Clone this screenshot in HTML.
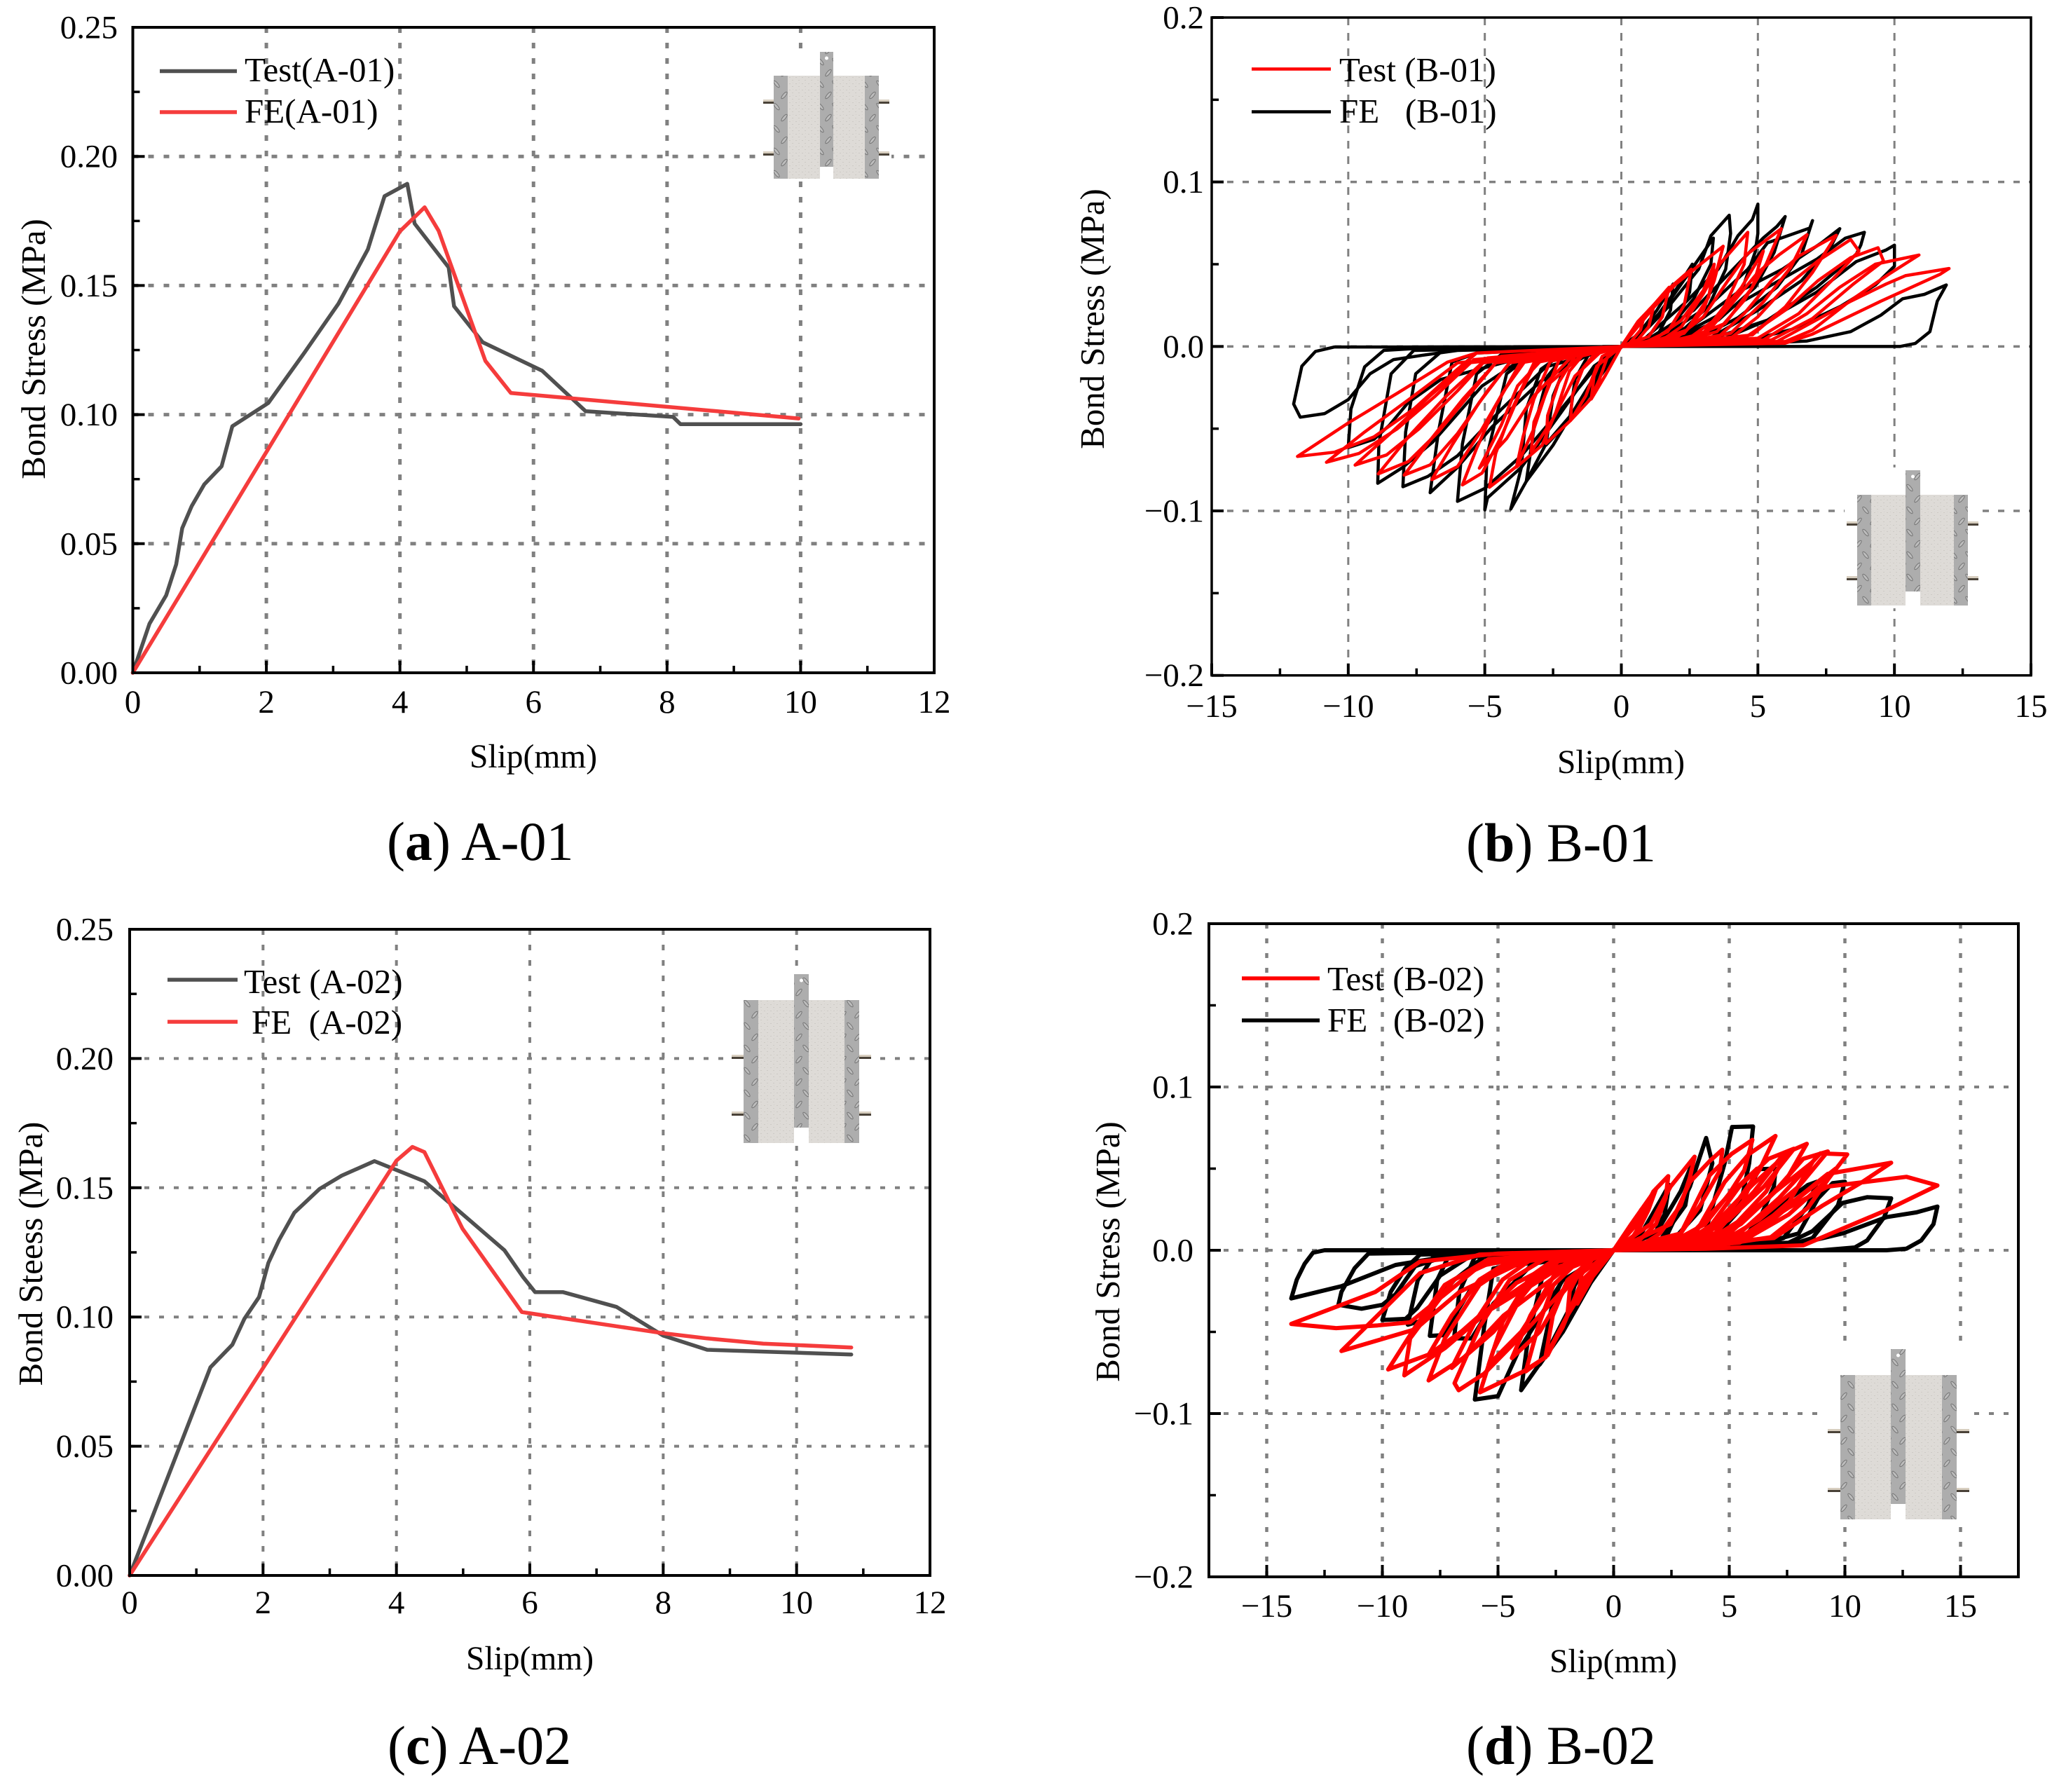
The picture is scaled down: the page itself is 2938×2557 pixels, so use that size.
<!DOCTYPE html>
<html lang="en">
<head>
<meta charset="utf-8">
<title>Bond stress versus slip: A-01, B-01, A-02, B-02</title>
<style>
html,body{margin:0;padding:0;background:#fff;}
svg{display:block;}
text{font-family:"Liberation Serif",serif;fill:#000;}
.tick{font-size:47px;}
.label{font-size:47.5px;}
.ytitle{font-size:48.8px;}
.legend{font-size:49px;white-space:pre;}
.caption{font-size:78px;}
</style>
</head>
<body>
<svg id="figure" width="2938" height="2557" viewBox="0 0 2938 2557" xmlns="http://www.w3.org/2000/svg">
<defs>
<pattern id="tread" patternUnits="userSpaceOnUse" width="21" height="32">
<rect width="21" height="32" fill="#adadad"/>
<ellipse cx="6" cy="8" rx="2" ry="6" transform="rotate(40 6 8)" fill="#bdbdbd" stroke="#757575" stroke-width="1"/>
<ellipse cx="16" cy="24" rx="2" ry="6" transform="rotate(-40 16 24)" fill="#bdbdbd" stroke="#757575" stroke-width="1"/>
</pattern>
<pattern id="concrete" patternUnits="userSpaceOnUse" width="9" height="9">
<rect width="9" height="9" fill="#dedbd7"/>
<rect x="1" y="2" width="2" height="1" fill="#cdcac5"/>
<rect x="5" y="6" width="2" height="1" fill="#cdcac5"/>
<rect x="6" y="1" width="1" height="1" fill="#d3d0cb"/>
</pattern>
</defs>
<rect width="2938" height="2557" fill="#fff"/>

<g id="panel-a"></g>
<g id="panel-b"></g>
<g id="panel-c"></g>
<g id="panel-d"></g>

<text class="ytitle" transform="translate(64 498) rotate(-90)" text-anchor="middle">Bond Stress (MPa)</text>
<text class="label" x="761" y="1095" text-anchor="middle">Slip(mm)</text>
<text class="legend" x="349" y="116">Test(A-01)</text>
<text class="legend" x="349" y="175">FE(A-01)</text>
<text class="caption" x="552" y="1227">(<tspan font-weight="bold">a</tspan>) A-01</text>

<text class="ytitle" transform="translate(1575 455) rotate(-90)" text-anchor="middle">Bond Stress (MPa)</text>
<text class="label" x="2313" y="1103" text-anchor="middle">Slip(mm)</text>
<text class="legend" x="1911" y="116">Test (B-01)</text>
<text class="legend" x="1911" y="175">FE   (B-01)</text>
<text class="caption" x="2092" y="1229">(<tspan font-weight="bold">b</tspan>) B-01</text>

<text class="ytitle" transform="translate(60 1789) rotate(-90)" text-anchor="middle">Bond Steess (MPa)</text>
<text class="label" x="756" y="2382" text-anchor="middle">Slip(mm)</text>
<text class="legend" x="348" y="1417">Test (A-02)</text>
<text class="legend" x="359" y="1475">FE  (A-02)</text>
<text class="caption" x="553" y="2517">(<tspan font-weight="bold">c</tspan>) A-02</text>

<text class="ytitle" transform="translate(1597 1786) rotate(-90)" text-anchor="middle">Bond Stress (MPa)</text>
<text class="label" x="2302" y="2386" text-anchor="middle">Slip(mm)</text>
<text class="legend" x="1894" y="1413">Test (B-02)</text>
<text class="legend" x="1894" y="1472">FE   (B-02)</text>
<text class="caption" x="2092" y="2517">(<tspan font-weight="bold">d</tspan>) B-02</text>
</svg>

<script>
// ---- axis ticks ----
const xTicksA = [0,2,4,6,8,10,12];
const xTickLabelsA = ['0','2','4','6','8','10','12'];
const yTicksA = [0,0.05,0.10,0.15,0.20,0.25];
const yTickLabelsA = ['0.00','0.05','0.10','0.15','0.20','0.25'];
const xTicksB = [-15,-10,-5,0,5,10,15];
const xTickLabelsB = ['\u221215','\u221210','\u22125','0','5','10','15'];
const yTicksB = [-0.2,-0.1,0,0.1,0.2];
const yTickLabelsB = ['\u22120.2','\u22120.1','0.0','0.1','0.2'];

// ---- panel (a) A-01 ----
const testA01 = [[0,0],[0.25,0.019],[0.5,0.03],[0.65,0.042],[0.74,0.056],[0.88,0.0645],[1.07,0.073],[1.33,0.08],[1.49,0.0955],[2.03,0.1045],[2.57,0.124],[3.08,0.143],[3.52,0.164],[3.64,0.174],[3.77,0.1846],[4.11,0.1894],[4.22,0.174],[4.73,0.157],[4.81,0.142],[5.24,0.128],[6.13,0.117],[6.78,0.1013],[8.09,0.0991],[8.2,0.0963],[10,0.0963]];
const feA01 = [[0,0],[4,0.171],[4.37,0.1803],[4.58,0.1712],[5.28,0.1208],[5.66,0.1084],[9.97,0.0985]];

// ---- panel (c) A-02 ----
const testA02 = [[0,0],[1.21,0.0805],[1.54,0.0893],[1.72,0.0993],[1.94,0.1077],[2.08,0.1209],[2.24,0.1298],[2.47,0.1404],[2.85,0.1496],[3.18,0.1547],[3.67,0.1603],[4.42,0.1525],[5.62,0.1258],[5.9,0.1154],[6.08,0.1096],[6.5,0.1096],[7.3,0.1039],[8,0.0928],[8.66,0.0873],[10.82,0.0855]];
const feA02 = [[0,0],[4,0.1605],[4.24,0.1658],[4.42,0.1638],[4.99,0.1342],[5.88,0.1019],[8,0.0937],[8.66,0.0917],[9.5,0.0897],[10.82,0.0882]];

// ---- panel (b) B-01: FE (black) loops ----
const feB01Pos = [
[[0,0],[0.5,0.005],[1.3,0.022],[1.9,0.038],[1.8,0.022],[1.3,0.006],[0,0]],
[[0,0],[0.5,0.004],[1.2,0.016],[1.9,0.032],[2.6,0.05],[2.5,0.033],[2,0.014],[1.3,0.004],[0,0]],
[[0,0],[0.5,0.006],[1.57,0.023],[2.47,0.0445],[3.37,0.0659],[3.28,0.05],[2.65,0.029],[1.57,0.0075],[0,0]],
[[0,0],[0.67,0.006],[1.75,0.0246],[2.83,0.047],[3.28,0.0673],[3.95,0.0798],[4,0.0687],[3.82,0.047],[3.2,0.0246],[2.1,0.0075],[1,0.0026],[0,0]],
[[0,0],[0.85,0.0047],[2.3,0.026],[3.55,0.047],[4.27,0.0673],[4.8,0.0772],[5,0.0865],[5,0.0687],[4.9,0.0573],[4.45,0.036],[3.2,0.0132],[1.75,0.0033],[0,0]],
[[0,0],[1,0.0047],[2.65,0.022],[4.27,0.05],[5.2,0.066],[5.7,0.073],[6,0.079],[5.6,0.0573],[4.9,0.036],[3.55,0.016],[2.1,0.0033],[0,0]],
[[0,0],[1.4,0.0047],[3.2,0.0246],[4.63,0.047],[5.35,0.063],[6.9,0.072],[7,0.0765],[6.6,0.056],[5.7,0.036],[4.27,0.0175],[2.65,0.0033],[0,0]],
[[0,0],[1,0.0026],[2.65,0.0132],[4.27,0.033],[5.9,0.047],[7.33,0.063],[8,0.0716],[7.7,0.0616],[6.6,0.04],[5,0.022],[3.2,0.0047],[0,0]],
[[0,0],[1.75,0.0033],[3.55,0.019],[5.35,0.036],[7.15,0.053],[8.2,0.0658],[8.9,0.0694],[8.77,0.0616],[8.6,0.056],[7.15,0.036],[5.35,0.016],[3.55,0.0033],[0,0]],
[[0,0],[3.55,0.006],[5.35,0.016],[7.15,0.033],[8.6,0.0516],[9.7,0.0587],[10,0.0616],[10,0.0488],[9.3,0.0374],[8.05,0.0246],[6.25,0.0104],[4.45,0.0026],[0,0]],
[[0,0],[3.55,0.0007],[6.8,0.0033],[8.4,0.009],[9.5,0.019],[10.3,0.029],[11.1,0.0317],[11.9,0.0374],[11.57,0.0275],[11.3,0.009],[10.76,0.0018],[10.2,0],[6,0],[0,0]]
];
const feB01Neg = [
[[0,0],[-1.2,-0.005],[-1.7,-0.02],[-1.9,-0.045],[-1.1,-0.028],[-0.4,-0.006],[0,0]],
[[0,0],[-1.4,-0.002],[-2,-0.01],[-2.5,-0.03],[-2.76,-0.06],[-1.9,-0.045],[-1.1,-0.025],[-0.4,-0.005],[0,0]],
[[0,0],[-2,-0.004],[-2.7,-0.018],[-3.2,-0.05],[-3.48,-0.082],[-2.5,-0.06],[-1.6,-0.035],[-0.6,-0.008],[0,0]],
[[0,0],[-2.2,-0.005],[-2.94,-0.0138],[-3.48,-0.038],[-3.66,-0.0735],[-4.05,-0.0989],[-3.48,-0.082],[-2.76,-0.0593],[-1.5,-0.035],[-0.4,-0.0095],[0,0]],
[[0,0],[-3.3,-0.005],[-4.2,-0.0166],[-4.92,-0.0664],[-5,-0.0994],[-4.9,-0.092],[-3.66,-0.0735],[-2.2,-0.04],[-1,-0.012],[0,0]],
[[0,0],[-4.4,-0.005],[-5.3,-0.0166],[-5.82,-0.0593],[-6,-0.0942],[-5,-0.0863],[-3.66,-0.0664],[-2.2,-0.038],[-0.77,-0.0095],[0,0]],
[[0,0],[-5.3,-0.004],[-6.2,-0.0095],[-6.7,-0.052],[-7,-0.0889],[-6,-0.0735],[-4.74,-0.049],[-2.94,-0.021],[-1.1,-0.004],[0,0]],
[[0,0],[-6.54,-0.0024],[-7.53,-0.0166],[-7.9,-0.052],[-8,-0.0853],[-7.08,-0.079],[-6,-0.0665],[-4.38,-0.038],[-2.76,-0.0124],[0,0]],
[[0,0],[-7.6,-0.0024],[-8.43,-0.0166],[-8.88,-0.0593],[-8.92,-0.0832],[-8,-0.0735],[-6.9,-0.058],[-5.1,-0.024],[-3.66,-0.008],[0,0]],
[[0,0],[-7.3,-0.001],[-8.7,-0.0024],[-9.4,-0.0124],[-9.9,-0.038],[-10,-0.0615],[-9.06,-0.0565],[-8.5,-0.048],[-7.8,-0.034],[-6.6,-0.02],[-3,-0.004],[0,0]],
[[0,0],[-8,-0.0003],[-10.5,-0.0003],[-11.2,-0.003],[-11.7,-0.012],[-12,-0.035],[-11.76,-0.043],[-10.86,-0.0408],[-10,-0.0323],[-9.2,-0.0166],[-8.34,-0.008],[-7.26,-0.0053],[-6,-0.0024],[0,0]]
];

// ---- panel (b) B-01: Test (red) loops ----
const testB01Pos = [
[[0,0],[0.5,0.012],[0.85,0.019],[0.7,0.01],[0.3,0.002],[0,0]],
[[0,0],[0.6,0.015],[1.2,0.0255],[1,0.012],[0.6,0.004],[0,0]],
[[0,0],[0.8,0.018],[1.75,0.036],[1.5,0.018],[1,0.006],[0,0]],
[[0,0],[1,0.022],[1.8,0.036],[2.56,0.047],[2.3,0.025],[1.7,0.009],[0.8,0.002],[0,0]],
[[0,0],[1.2,0.004],[2.2,0.016],[3,0.034],[3.4,0.05],[3.2,0.03],[2.4,0.01],[1,0.002],[0,0]],
[[0,0],[1.2,0.024],[2,0.038],[2.9,0.05],[3.73,0.0609],[3.4,0.04],[3,0.022],[2.3,0.008],[1,0.002],[0,0]],
[[0,0],[1.5,0.004],[2.2,0.012],[3,0.032],[3.6,0.05],[4.63,0.0694],[4.5,0.05],[3.8,0.025],[3,0.008],[1.5,0.002],[0,0]],
[[0,0],[2.4,0.004],[3.4,0.016],[4.4,0.036],[5.2,0.058],[4.8,0.036],[3.8,0.014],[2,0.002],[0,0]],
[[0,0],[2,0.005],[3,0.018],[3.9,0.04],[4.6,0.056],[5.86,0.0716],[5.3,0.05],[4.5,0.028],[3.5,0.009],[2,0.002],[0,0]],
[[0,0],[3,0.006],[4,0.025],[5,0.045],[5.8,0.056],[6.8,0.068],[6.2,0.048],[5.2,0.027],[4,0.008],[2,0.002],[0,0]],
[[0,0],[3.5,0.005],[4.5,0.02],[5.5,0.04],[6.5,0.055],[7.87,0.0676],[7,0.045],[6,0.024],[4.8,0.007],[2,0.002],[0,0]],
[[0,0],[4,0.005],[5,0.018],[6,0.036],[7.2,0.052],[8.4,0.065],[8.7,0.058],[7.7,0.04],[6.5,0.02],[5,0.005],[2,0.002],[0,0]],
[[0,0],[4.5,0.005],[6,0.022],[7.2,0.04],[8.4,0.054],[9.4,0.06],[9.6,0.052],[8.5,0.038],[7,0.017],[5.5,0.004],[2,0.002],[0,0]],
[[0,0],[5.2,0.004],[6.8,0.02],[8,0.036],[9.3,0.05],[10.9,0.0556],[9.8,0.044],[8.4,0.028],[7,0.01],[6,0.003],[2,0.002],[0,0]],
[[0,0],[5.7,0.003],[8.4,0.0275],[9.7,0.038],[10.4,0.043],[12,0.0474],[11.66,0.0438],[9.5,0.0275],[7,0.0075],[6,0.002],[0,0]]
];
const testB01Neg = [
[[0,0],[-0.7,-0.006],[-1,-0.018],[-1.1,-0.032],[-0.6,-0.018],[0,0]],
[[0,0],[-0.9,-0.003],[-1.4,-0.013],[-1.8,-0.03],[-1.86,-0.045],[-1.13,-0.032],[-0.8,-0.02],[-0.5,-0.006],[0,0]],
[[0,0],[-1.7,-0.006],[-2.3,-0.022],[-2.7,-0.042],[-2.76,-0.059],[-1.86,-0.045],[-1.3,-0.03],[-0.9,-0.012],[0,0]],
[[0,0],[-1.5,-0.006],[-2.6,-0.022],[-3.2,-0.046],[-3.3,-0.064],[-2.5,-0.044],[-1.7,-0.018],[-0.8,-0.004],[0,0]],
[[0,0],[-2.6,-0.009],[-3.2,-0.032],[-3.6,-0.055],[-3.84,-0.0733],[-2.9,-0.06],[-2.4,-0.04],[-1.9,-0.015],[-1.3,-0.003],[0,0]],
[[0,0],[-3.2,-0.01],[-4,-0.038],[-4.6,-0.065],[-4.83,-0.0856],[-3.84,-0.073],[-3.2,-0.05],[-2.7,-0.025],[-2.2,-0.005],[0,0]],
[[0,0],[-2.8,-0.006],[-3.8,-0.024],[-4.4,-0.048],[-5.2,-0.074],[-4.2,-0.056],[-3.2,-0.03],[-1.8,-0.006],[0,0]],
[[0,0],[-3.7,-0.01],[-4.6,-0.036],[-5.3,-0.062],[-5.82,-0.0842],[-5.1,-0.077],[-4.4,-0.055],[-3.7,-0.028],[-3,-0.006],[0,0]],
[[0,0],[-4.1,-0.01],[-5.2,-0.034],[-6.2,-0.06],[-6.94,-0.081],[-6,-0.073],[-5.2,-0.053],[-4.3,-0.027],[-3.4,-0.006],[0,0]],
[[0,0],[-4.6,-0.01],[-5.8,-0.032],[-7,-0.057],[-7.95,-0.0782],[-7,-0.072],[-6,-0.053],[-4.9,-0.027],[-3.9,-0.006],[0,0]],
[[0,0],[-5.1,-0.01],[-6.4,-0.03],[-7.8,-0.055],[-8.9,-0.0775],[-7.8,-0.07],[-6.7,-0.052],[-5.5,-0.028],[-4.4,-0.006],[0,0]],
[[0,0],[-5.6,-0.01],[-7,-0.03],[-8.4,-0.052],[-9.75,-0.0721],[-8.6,-0.066],[-7.4,-0.05],[-6,-0.027],[-4.9,-0.007],[0,0]],
[[0,0],[-6,-0.01],[-7.6,-0.03],[-9.4,-0.052],[-10.8,-0.0704],[-9.6,-0.065],[-8.2,-0.05],[-6.8,-0.03],[-5.4,-0.008],[0,0]],
[[0,0],[-5.3,-0.004],[-6.36,-0.0095],[-8.16,-0.028],[-10,-0.0465],[-11.86,-0.0669],[-10.5,-0.0643],[-9.06,-0.055],[-7.6,-0.038],[-6,-0.0138],[-5.3,-0.004],[0,0]]
];

// ---- panel (d) B-02: FE (black) loops ----
const feB02Pos = [
[[0,0],[1.2,0.0103],[2,0.03],[2.4,0.04],[2.2,0.022],[1.6,0.005],[0,0]],
[[0,0],[1.83,0.0103],[2.9,0.0361],[3.4,0.0533],[3.1,0.0275],[2,0.006],[0,0]],
[[0,0],[2.25,0.0075],[3.3,0.039],[4,0.0688],[4.27,0.0533],[3.74,0.0246],[2.46,0.0046],[0,0]],
[[0,0],[3.95,0.0103],[4.8,0.0533],[5.12,0.0755],[6.03,0.0758],[5.86,0.0533],[5.44,0.0246],[4.16,0.0046],[0,0]],
[[0,0],[3.95,0.0103],[5.44,0.0275],[6.3,0.0497],[7,0.05],[6.93,0.039],[6.3,0.0189],[5.44,0.0046],[0,0]],
[[0,0],[5.44,0.0046],[7.35,0.029],[8.4,0.04],[8.8,0.042],[8.4,0.0275],[7.35,0.0075],[6.3,0.003],[0,0]],
[[0,0],[6.5,0.0046],[8,0.0103],[8.84,0.0318],[9.47,0.0411],[10,0.042],[9.7,0.0275],[8.6,0.0075],[7.56,0.003],[0,0]],
[[0,0],[7.56,0.0046],[8.6,0.0117],[9.9,0.029],[10.96,0.0325],[12,0.0318],[11.7,0.0203],[10.96,0.006],[10.43,0.0017],[9,0],[0,0]],
[[0,0],[5.44,0.0032],[8.2,0.0046],[9.9,0.0103],[11.8,0.0203],[13.1,0.0232],[14,0.0268],[13.83,0.016],[13.3,0.006],[12.66,0.001],[11.8,0],[6,0],[0,0]]
];
const feB02Neg = [
[[0,0],[-1.1,-0.005],[-1.7,-0.022],[-2.2,-0.05],[-1.4,-0.03],[-0.6,-0.01],[0,0]],
[[0,0],[-1.9,-0.008],[-2.6,-0.03],[-3.2,-0.07],[-2.2,-0.05],[-1,-0.02],[0,0]],
[[0,0],[-3,-0.0112],[-3.7,-0.054],[-4,-0.0857],[-3,-0.0656],[-1.8,-0.0327],[-0.5,-0.0083],[0,0]],
[[0,0],[-5.2,-0.0112],[-5.6,-0.047],[-6,-0.0914],[-5,-0.0893],[-4.1,-0.0613],[-2.2,-0.0183],[0,0]],
[[0,0],[-6,-0.004],[-6.67,-0.0255],[-6.9,-0.054],[-6.14,-0.054],[-5.2,-0.0327],[-3.5,-0.0083],[0,0]],
[[0,0],[-7.1,-0.0026],[-7.63,-0.0183],[-7.95,-0.0524],[-7.4,-0.052],[-6.25,-0.0255],[-4.55,-0.0069],[0,0]],
[[0,0],[-7.73,-0.0026],[-8.47,-0.0183],[-8.9,-0.0456],[-8.37,-0.0434],[-6.9,-0.0183],[-5.6,-0.004],[0,0]],
[[0,0],[-8.37,-0.0026],[-9,-0.011],[-9.64,-0.0255],[-10,-0.0427],[-9,-0.042],[-8.5,-0.0355],[-7.5,-0.0155],[-6.25,-0.004],[0,0]],
[[0,0],[-10.6,-0.002],[-11.2,-0.011],[-11.77,-0.0255],[-11.9,-0.0334],[-10.9,-0.0358],[-10,-0.0334],[-9.43,-0.027],[-8.58,-0.0097],[-7.3,-0.004],[0,0]],
[[0,0],[-8,0],[-12.5,0],[-13,-0.0015],[-13.36,-0.0083],[-13.7,-0.018],[-13.94,-0.0295],[-11.77,-0.022],[-9.43,-0.009],[-7.3,-0.004],[-4,-0.001],[0,0]]
];

// ---- panel (d) B-02: Test (red) loops ----
const testB02Pos = [
[[0,0],[0.6,0.01],[1.2,0.025],[1,0.012],[0.6,0.003],[0,0]],
[[0,0],[0.76,0.016],[1.83,0.0375],[1.5,0.0246],[1,0.0103],[0,0]],
[[0,0],[1,0.016],[1.72,0.036],[2.36,0.0454],[2.25,0.032],[1.83,0.016],[1,0.0046],[0,0]],
[[0,0],[1.6,0.016],[2.46,0.039],[3.5,0.0573],[3.3,0.0447],[2.9,0.0275],[2,0.0103],[1.2,0.003],[0,0]],
[[0,0],[2.46,0.016],[3.3,0.0418],[4.16,0.0547],[4.7,0.0616],[4.6,0.049],[3.74,0.0275],[2.9,0.0103],[1.83,0.003],[0,0]],
[[0,0],[2,0.002],[3.5,0.012],[5,0.034],[6.2,0.05],[5.6,0.03],[4.4,0.01],[2.5,0.002],[0,0]],
[[0,0],[2.9,0.0103],[4.16,0.0461],[5.1,0.059],[6,0.0676],[5.65,0.049],[5,0.0347],[3.95,0.016],[2.46,0.0046],[0,0]],
[[0,0],[3,0.004],[4.5,0.018],[6,0.04],[7.4,0.058],[6.6,0.036],[5,0.012],[3,0.002],[0,0]],
[[0,0],[3.53,0.0103],[4.8,0.0418],[5.86,0.059],[7,0.07],[6.3,0.049],[5.44,0.0318],[4.6,0.016],[2.9,0.0046],[0,0]],
[[0,0],[3.95,0.0103],[5.44,0.039],[6.7,0.056],[7.8,0.0622],[6.5,0.039],[5,0.0189],[3.3,0.0046],[0,0]],
[[0,0],[4,0.004],[5.5,0.016],[7,0.036],[8.6,0.054],[7.6,0.03],[6,0.01],[3.5,0.002],[0,0]],
[[0,0],[4.38,0.0103],[6.08,0.0361],[7.35,0.059],[8.35,0.0652],[7.35,0.0404],[5.65,0.02],[3.95,0.0046],[0,0]],
[[0,0],[5,0.004],[6.5,0.014],[8,0.032],[9.6,0.05],[8.4,0.026],[6.8,0.008],[4,0.002],[0,0]],
[[0,0],[5,0.0103],[6.7,0.0318],[8.2,0.056],[9.26,0.0605],[8,0.039],[6.3,0.0189],[4.6,0.0046],[0,0]],
[[0,0],[5.44,0.0103],[7.14,0.0318],[8.94,0.0593],[10.1,0.0587],[9.26,0.0433],[7.56,0.0218],[5.44,0.0046],[0,0]],
[[0,0],[5.44,0.0075],[7.56,0.0275],[9.26,0.0468],[12,0.0536],[10.75,0.0418],[9.05,0.0275],[6.93,0.0075],[0,0]],
[[0,0],[5.86,0.0103],[7.56,0.026],[9.26,0.039],[12.66,0.045],[14,0.0397],[11.8,0.0246],[9.9,0.0132],[8.2,0.003],[4,0.001],[0,0]]
];
const testB02Neg = [
[[0,0],[-0.8,-0.003],[-1.4,-0.015],[-1.57,-0.0327],[-0.9,-0.016],[0,0]],
[[0,0],[-1.2,-0.006],[-1.9,-0.025],[-2,-0.04],[-1.3,-0.024],[-0.8,-0.008],[0,0]],
[[0,0],[-0.93,-0.0054],[-2,-0.0183],[-2.63,-0.04],[-2.95,-0.0656],[-2.2,-0.047],[-1.36,-0.0183],[0,0]],
[[0,0],[-1.57,-0.0069],[-2.6,-0.0212],[-3.27,-0.047],[-3.8,-0.0742],[-2.85,-0.0642],[-2,-0.04],[-1.15,-0.0155],[0,0]],
[[0,0],[-1.5,-0.004],[-2.6,-0.016],[-3.6,-0.04],[-4.4,-0.066],[-3.2,-0.05],[-2.2,-0.026],[-1,-0.006],[0,0]],
[[0,0],[-2.4,-0.0069],[-3.9,-0.0255],[-5.2,-0.0613],[-5.78,-0.087],[-3.9,-0.0742],[-2.95,-0.0656],[-2,-0.04],[-0.93,-0.0126],[0,0]],
[[0,0],[-2.4,-0.004],[-3.6,-0.016],[-4.8,-0.044],[-5.4,-0.07],[-4,-0.05],[-2.8,-0.024],[-1.4,-0.005],[0,0]],
[[0,0],[-3,-0.0054],[-4.5,-0.0183],[-5.8,-0.047],[-6.88,-0.0814],[-6.7,-0.0857],[-5.6,-0.0756],[-4.1,-0.054],[-1.8,-0.0183],[0,0]],
[[0,0],[-3.4,-0.004],[-4.8,-0.018],[-6,-0.044],[-7,-0.072],[-5.2,-0.05],[-3.6,-0.022],[-1.6,-0.004],[0,0]],
[[0,0],[-4.3,-0.0069],[-5.8,-0.0212],[-7.3,-0.054],[-8,-0.0797],[-6.46,-0.0656],[-4.76,-0.04],[-2.2,-0.0126],[0,0]],
[[0,0],[-4.2,-0.004],[-5.8,-0.018],[-7,-0.04],[-8,-0.064],[-6,-0.044],[-4.2,-0.02],[-2,-0.004],[0,0]],
[[0,0],[-5,-0.0054],[-6.9,-0.018],[-8.8,-0.054],[-9.05,-0.0766],[-7.3,-0.06],[-5.4,-0.037],[-2.6,-0.0126],[0,0]],
[[0,0],[-5.4,-0.0054],[-7.3,-0.0212],[-8.58,-0.047],[-9.75,-0.073],[-7.5,-0.0613],[-5.8,-0.04],[-3,-0.0126],[0,0]],
[[0,0],[-5.8,-0.0026],[-8.37,-0.014],[-10,-0.037],[-11.77,-0.0617],[-8.58,-0.0484],[-6.67,-0.0255],[-3.9,-0.0069],[0,0]],
[[0,0],[-5,-0.002],[-8.37,-0.0069],[-10.3,-0.0255],[-13.94,-0.0451],[-12,-0.0477],[-10.2,-0.046],[-8.8,-0.0441],[-7.3,-0.027],[-5.8,-0.0097],[-3,-0.002],[0,0]]
];

// ---- drawing ----
const NS = 'http://www.w3.org/2000/svg';
function make(tag, attrs) {
  const el = document.createElementNS(NS, tag);
  for (const k in attrs) el.setAttribute(k, attrs[k]);
  return el;
}

function drawInset(root, s) {
  const g = make('g', {});
  
  
  g.appendChild(make('rect', {x:s.x0-s.bolt-3, y:s.tabTop-4, width:s.x1-s.x0+2*s.bolt+6, height:s.bottom-s.tabTop+8, fill:'#fff'}));
  g.appendChild(make('rect', {x:s.x0+s.plate, y:s.top, width:s.x1-s.x0-2*s.plate, height:s.bottom-s.top, fill:'url(#concrete)'}));
  g.appendChild(make('rect', {x:s.tab0, y:s.centerBottom, width:s.tab1-s.tab0, height:s.bottom-s.centerBottom+1, fill:'#fff'}));
  g.appendChild(make('rect', {x:s.x0, y:s.top, width:s.plate, height:s.bottom-s.top, fill:'url(#tread)'}));
  g.appendChild(make('rect', {x:s.x1-s.plate, y:s.top, width:s.plate, height:s.bottom-s.top, fill:'url(#tread)'}));
  g.appendChild(make('rect', {x:s.tab0, y:s.tabTop, width:s.tab1-s.tab0, height:s.centerBottom-s.tabTop, fill:'url(#tread)'}));
  g.appendChild(make('circle', {cx:(s.tab0+s.tab1)/2, cy:s.tabTop+9, r:2.5, fill:'#fff'}));
  for (const by of s.bolts) {
    for (const bx of [s.x0-s.bolt, s.x1]) {
      g.appendChild(make('rect', {x:bx, y:by-3, width:s.bolt, height:3, fill:'#d8cfc0'}));
      g.appendChild(make('rect', {x:bx, y:by, width:s.bolt, height:3, fill:'#4a4238'}));
    }
  }
  root.appendChild(g);
}

function drawPanel(p) {
  const root = document.getElementById(p.id);
  const sx = v => p.left + (v - p.xMin) / (p.xMax - p.xMin) * (p.right - p.left);
  const sy = v => p.bottom - (v - p.yMin) / (p.yMax - p.yMin) * (p.bottom - p.top);

  p.xTicks.forEach(v => {
    if (v === p.xMin || v === p.xMax) return;
    const ln = make('line', {x1:sx(v), x2:sx(v), y1:p.top, y2:p.bottom, stroke:'#808080', 'stroke-width':p.gridV[0], 'stroke-dasharray':p.gridV[1]});
    
    
    root.appendChild(ln);
  });
  p.yTicks.forEach(v => {
    if (v === p.yMin || v === p.yMax) return;
    const ln = make('line', {x1:p.left, x2:p.right, y1:sy(v), y2:sy(v), stroke:'#808080', 'stroke-width':p.gridH[0], 'stroke-dasharray':p.gridH[1]});
    
    
    root.appendChild(ln);
  });

  drawInset(root, p.inset);

  p.series.forEach(s => {
    s.groups.forEach(loop => {
      const pl = make('polyline', {points:loop.map(q => sx(q[0]).toFixed(1) + ',' + sy(q[1]).toFixed(1)).join(' '), fill:'none', stroke:s.color, 'stroke-width':s.width, 'stroke-linejoin':'round', 'stroke-linecap':'round'});
      
      
      root.appendChild(pl);
    });
  });

  const frame = make('rect', {x:p.left, y:p.top, width:p.right-p.left, height:p.bottom-p.top, fill:'none', stroke:'#000', 'stroke-width':p.frameWidth});
  
  
  root.appendChild(frame);

  p.xTicks.forEach((v, i) => {
    const t = make('line', {x1:sx(v), x2:sx(v), y1:p.bottom, y2:p.bottom-17, stroke:'#000', 'stroke-width':4});
    
    
    root.appendChild(t);
    if (i < p.xTicks.length - 1) {
      const mid = (v + p.xTicks[i+1]) / 2;
      const m = make('line', {x1:sx(mid), x2:sx(mid), y1:p.bottom, y2:p.bottom-10, stroke:'#000', 'stroke-width':3.5});
      
      
      root.appendChild(m);
    }
    const lb = make('text', {x:sx(v), y:p.xLabelY, 'text-anchor':'middle', class:'tick'});
    lb.textContent = p.xLabels[i];
    
    
    root.appendChild(lb);
  });
  p.yTicks.forEach((v, i) => {
    const t = make('line', {x1:p.left, x2:p.left+17, y1:sy(v), y2:sy(v), stroke:'#000', 'stroke-width':4});
    
    
    root.appendChild(t);
    if (i < p.yTicks.length - 1) {
      const mid = (v + p.yTicks[i+1]) / 2;
      const m = make('line', {x1:p.left, x2:p.left+10, y1:sy(mid), y2:sy(mid), stroke:'#000', 'stroke-width':3.5});
      
      
      root.appendChild(m);
    }
    const lb = make('text', {x:p.yLabelX, y:sy(v)+15.5, 'text-anchor':'end', class:'tick'});
    lb.textContent = p.yLabels[i];
    
    
    root.appendChild(lb);
  });

  p.legend.forEach(e => {
    const ln = make('line', {x1:e.x0, x2:e.x1, y1:e.y, y2:e.y, stroke:e.color, 'stroke-width':e.width});
    
    
    root.appendChild(ln);
  });
}

drawPanel({
  id:'panel-a', left:189.5, right:1333, top:39, bottom:960, frameWidth:4,
  xMin:0, xMax:12, yMin:0, yMax:0.25,
  xTicks:xTicksA, xLabels:xTickLabelsA, yTicks:yTicksA, yLabels:yTickLabelsA,
  xLabelY:1017, yLabelX:168,
  gridV:[5,'8 14'], gridH:[5,'8 14'],
  inset:{x0:1104,x1:1254,tab0:1170,tab1:1189,tabTop:74,top:108,bottom:255,centerBottom:238,plate:20,bolt:15,bolts:[145,219]},
  series:[
    {name:'test-a-01-line', color:'#505050', width:5.5, groups:[testA01]},
    {name:'fe-a-01-line', color:'#f53c3c', width:5.5, groups:[feA01]}
  ],
  legend:[{x0:228,x1:338,y:101.5,color:'#505050',width:5.5},{x0:228,x1:338,y:160,color:'#f53c3c',width:5.5}]
});

drawPanel({
  id:'panel-b', left:1729, right:2898, top:25, bottom:963.7, frameWidth:3.5,
  xMin:-15, xMax:15, yMin:-0.2, yMax:0.2,
  xTicks:xTicksB, xLabels:xTickLabelsB, yTicks:yTicksB, yLabels:yTickLabelsB,
  xLabelY:1023, yLabelX:1718,
  gridV:[3,'11 11'], gridH:[3.5,'9 13'],
  inset:{x0:2650,x1:2808,tab0:2719,tab1:2740,tabTop:671,top:706,bottom:864,centerBottom:844,plate:20,bolt:15,bolts:[747,825]},
  series:[
    {name:'fe-b-01-loop', color:'#000', width:4.5, groups:feB01Pos.concat(feB01Neg)},
    {name:'test-b-01-loop', color:'#ff0000', width:4.5, groups:testB01Pos.concat(testB01Neg)}
  ],
  legend:[{x0:1786,x1:1899,y:98.5,color:'#ff0000',width:4.5},{x0:1786,x1:1899,y:159.5,color:'#000',width:4.5}]
});

drawPanel({
  id:'panel-c', left:185, right:1327, top:1326, bottom:2248, frameWidth:4,
  xMin:0, xMax:12, yMin:0, yMax:0.25,
  xTicks:xTicksA, xLabels:xTickLabelsA, yTicks:yTicksA, yLabels:yTickLabelsA,
  xLabelY:2302, yLabelX:162,
  gridV:[4,'8 14'], gridH:[4,'7 14'],
  inset:{x0:1061,x1:1226,tab0:1133,tab1:1154,tabTop:1390,top:1427,bottom:1631,centerBottom:1609,plate:21,bolt:17,bolts:[1508,1589]},
  series:[
    {name:'test-a-02-line', color:'#505050', width:5.5, groups:[testA02]},
    {name:'fe-a-02-line', color:'#f53c3c', width:5.5, groups:[feA02]}
  ],
  legend:[{x0:239,x1:339,y:1398,color:'#505050',width:5.5},{x0:239,x1:339,y:1458,color:'#f53c3c',width:5.5}]
});

drawPanel({
  id:'panel-d', left:1725, right:2880, top:1318, bottom:2250, frameWidth:4,
  xMin:-17.5, xMax:17.5, yMin:-0.2, yMax:0.2,
  xTicks:xTicksB, xLabels:xTickLabelsB, yTicks:yTicksB, yLabels:yTickLabelsB,
  xLabelY:2307, yLabelX:1703,
  gridV:[4.5,'7 14'], gridH:[4,'7 14'],
  inset:{x0:2626,x1:2792,tab0:2698,tab1:2719,tabTop:1925,top:1962,bottom:2168,centerBottom:2146,plate:21,bolt:18,bolts:[2042,2126]},
  series:[
    {name:'fe-b-02-loop', color:'#000', width:6, groups:feB02Pos.concat(feB02Neg)},
    {name:'test-b-02-loop', color:'#ff0000', width:6, groups:testB02Pos.concat(testB02Neg)}
  ],
  legend:[{x0:1772,x1:1883,y:1396,color:'#ff0000',width:5.5},{x0:1772,x1:1883,y:1456,color:'#000',width:5.5}]
});
</script>
</body>
</html>
